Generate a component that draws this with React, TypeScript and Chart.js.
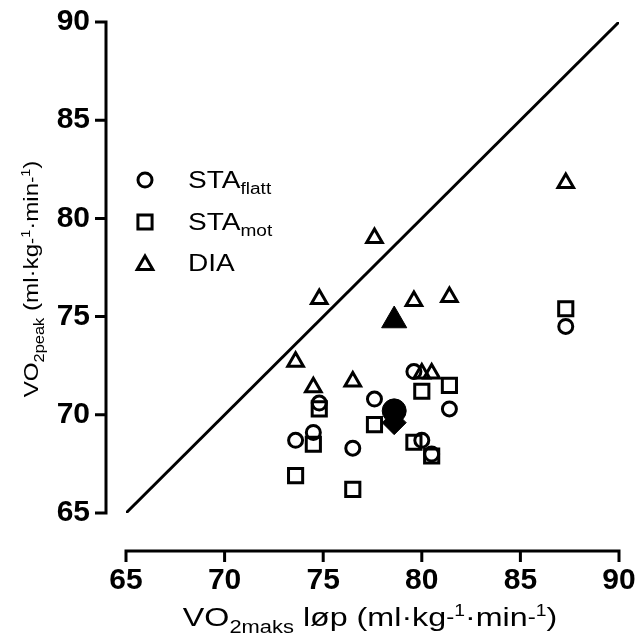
import React, { useEffect, useRef } from 'react';
import { Chart, registerables } from 'chart.js';

Chart.register(...registerables);

// VO2maks løp of each runner (shared x for all three test conditions)
const runnerX = [73.6, 74.5, 74.8, 76.5, 77.6, 79.6, 80.0, 80.5, 81.4, 87.3];
// VO2peak per condition
const staFlattY = [68.7, 69.1, 70.6, 68.3, 70.8, 72.2, 68.7, 68.0, 70.3, 74.5];
const staMotY = [66.9, 68.5, 70.3, 66.2, 69.5, 68.6, 71.2, 67.9, 71.5, 75.4];
const diaY = [72.7, 71.4, 75.9, 71.7, 79.0, 75.8, 72.1, 72.1, 76.0, 81.8];
// group means (filled symbols)
const meanX = [78.6];
const meanFlattY = [70.2];
const meanMotY = [69.6];
const meanDiaY = [74.8];
// identity line
const identityLine = [65, 90];
const axisMin = 65;
const axisMax = 90;
const tickStep = 5;

type Kind = 'n' | 'sub' | 'sup' | 'dash';
type Seg = [string, Kind];

const FONT = '"Liberation Sans", Arial, sans-serif';

function drawRich(
  ctx: CanvasRenderingContext2D,
  segs: Seg[],
  x: number,
  y: number,
  size: number,
  sx: number,
  align: 'left' | 'center',
  rot = 0,
) {
  ctx.save();
  ctx.translate(x, y);
  if (rot) ctx.rotate(rot);
  ctx.scale(sx, 1);
  ctx.fillStyle = '#000';
  ctx.textBaseline = 'alphabetic';
  ctx.textAlign = 'left';
  const spec = (k: Kind) => {
    if (k === 'sub') return { fs: size * 0.68, off: size * 0.27 };
    if (k === 'sup') return { fs: size * 0.6, off: -size * 0.38 };
    if (k === 'dash') return { fs: size * 0.75, off: -size * 0.06 };
    return { fs: size, off: 0 };
  };
  let total = 0;
  const widths: number[] = [];
  for (const [t, k] of segs) {
    ctx.font = `${spec(k).fs}px ${FONT}`;
    const w = ctx.measureText(t).width;
    widths.push(w);
    total += w;
  }
  let cx = align === 'center' ? -total / 2 : 0;
  segs.forEach(([t, k], i) => {
    const s = spec(k);
    ctx.font = `${s.fs}px ${FONT}`;
    ctx.fillText(t, cx, s.off);
    cx += widths[i];
  });
  ctx.restore();
}

function drawMarker(ctx: CanvasRenderingContext2D, style: string, x: number, y: number, r: number) {
  ctx.beginPath();
  if (style === 'circle') {
    ctx.arc(x, y, r, 0, Math.PI * 2);
  } else if (style === 'rect') {
    const s = Math.SQRT1_2 * r;
    ctx.rect(x - s, y - s, 2 * s, 2 * s);
  } else {
    ctx.moveTo(x, y - r);
    ctx.lineTo(x + Math.sin((2 * Math.PI) / 3) * r, y + 0.5 * r);
    ctx.lineTo(x - Math.sin((2 * Math.PI) / 3) * r, y + 0.5 * r);
    ctx.closePath();
  }
  ctx.stroke();
}

const R_CIRCLE = 7;
const R_RECT = 10;
const R_TRI = 9;

const decorPlugin = {
  id: 'decor',
  beforeDatasetsDraw(chart: any) {
    const ctx: CanvasRenderingContext2D = chart.ctx;
    const xs = chart.scales.x;
    const ys = chart.scales.y;
    const area = chart.chartArea;
    const axisY = area.bottom + 38;
    const axisX = area.left - 20;
    ctx.save();
    ctx.strokeStyle = '#000';
    ctx.lineWidth = 3;
    ctx.lineCap = 'butt';
    // x axis
    const x0 = xs.getPixelForValue(axisMin);
    const x1 = xs.getPixelForValue(axisMax);
    ctx.beginPath();
    ctx.moveTo(x0 - 1.5, axisY);
    ctx.lineTo(x1 + 1.5, axisY);
    for (const t of xs.ticks) {
      const px = xs.getPixelForValue(t.value);
      ctx.moveTo(px, axisY);
      ctx.lineTo(px, axisY + 11);
    }
    ctx.stroke();
    // y axis
    const y0 = ys.getPixelForValue(axisMin);
    const y1 = ys.getPixelForValue(axisMax);
    ctx.beginPath();
    ctx.moveTo(axisX, y0 + 1.5);
    ctx.lineTo(axisX, y1 - 1.5);
    for (const t of ys.ticks) {
      const py = ys.getPixelForValue(t.value);
      ctx.moveTo(axisX, py);
      ctx.lineTo(axisX - 11, py);
    }
    ctx.stroke();
    ctx.restore();
  },
  afterDraw(chart: any) {
    const ctx: CanvasRenderingContext2D = chart.ctx;
    ctx.save();
    // legend
    ctx.strokeStyle = '#000';
    ctx.lineWidth = 3;
    const lx = 145;
    const rows: [string, number, Seg[]][] = [
      ['circle', 180, [['STA', 'n'], ['flatt', 'sub']]],
      ['rect', 222, [['STA', 'n'], ['mot', 'sub']]],
      ['triangle', 263, [['DIA', 'n']]],
    ];
    for (const [style, y, segs] of rows) {
      drawMarker(ctx, style, lx, style === 'triangle' ? y + 2 : y, style === 'circle' ? R_CIRCLE : style === 'rect' ? R_RECT : R_TRI);
      drawRich(ctx, segs, 188, y + 8, 23, 1.22, 'left');
    }
    // x title
    drawRich(
      ctx,
      [['VO', 'n'], ['2maks', 'sub'], [' løp (ml·kg', 'n'], ['-', 'dash'], ['1', 'sup'], ['·min', 'n'], ['-', 'dash'], ['1', 'sup'], [')', 'n']],
      370,
      626,
      26,
      1.24,
      'center',
    );
    // y title
    drawRich(
      ctx,
      [['VO', 'n'], ['2peak', 'sub'], [' (ml·kg', 'n'], ['-', 'dash'], ['1', 'sup'], ['·min', 'n'], ['-', 'dash'], ['1', 'sup'], [')', 'n']],
      38,
      279,
      21,
      1.15,
      'center',
      -Math.PI / 2,
    );
    ctx.restore();
  },
};

const toPts = (xs: number[], ys: number[]) => xs.map((x, i) => ({ x, y: ys[i] }));

export default function App() {
  const ref = useRef<HTMLCanvasElement | null>(null);
  useEffect(() => {
    if (!ref.current) return;
    const openStyle = { borderColor: '#000', backgroundColor: 'rgba(0,0,0,0)', borderWidth: 3 };
    const chart = new Chart(ref.current, {
      type: 'scatter',
      data: {
        datasets: [
          {
            type: 'line',
            label: 'identity',
            data: toPts(identityLine, identityLine),
            borderColor: '#000',
            borderWidth: 3,
            pointRadius: 0,
            fill: false,
          } as any,
          { label: 'STAflatt', data: toPts(runnerX, staFlattY), pointStyle: 'circle', pointRadius: R_CIRCLE, ...openStyle },
          { label: 'STAmot', data: toPts(runnerX, staMotY), pointStyle: 'rect', pointRadius: R_RECT, ...openStyle },
          { label: 'DIA', data: toPts(runnerX, diaY), pointStyle: 'triangle', pointRadius: R_TRI, ...openStyle },
          {
            label: 'DIA mean',
            data: toPts(meanX, meanDiaY),
            pointStyle: 'triangle',
            pointRadius: 14.5,
            borderColor: '#000',
            backgroundColor: '#000',
            borderWidth: 1,
          },
          {
            label: 'STAmot mean',
            data: toPts(meanX, meanMotY),
            pointStyle: 'rectRot',
            pointRadius: 12,
            borderColor: '#000',
            backgroundColor: '#000',
            borderWidth: 1,
          },
          {
            label: 'STAflatt mean',
            data: toPts(meanX, meanFlattY),
            pointStyle: 'circle',
            pointRadius: 12,
            borderColor: '#000',
            backgroundColor: '#000',
            borderWidth: 1,
          },
        ],
      },
      options: {
        animation: false,
        responsive: false,
        devicePixelRatio: 1,
        layout: { padding: { top: 22, right: 17, left: 0, bottom: 0 } },
        plugins: { legend: { display: false }, tooltip: { enabled: false } },
        scales: {
          x: {
            type: 'linear',
            min: axisMin,
            max: axisMax,
            grid: { display: false, drawTicks: false },
            border: { display: false },
            ticks: {
              stepSize: tickStep,
              padding: 50,
              color: '#000',
              font: { family: FONT, size: 30, weight: 'bold' },
              maxRotation: 0,
            },
            afterFit: (s: any) => {
              s.height = 126;
              s.paddingLeft = 0;
              s.paddingRight = 0;
            },
          },
          y: {
            type: 'linear',
            min: axisMin,
            max: axisMax,
            grid: { display: false, drawTicks: false },
            border: { display: false },
            ticks: {
              stepSize: tickStep,
              padding: 36,
              color: '#000',
              font: { family: FONT, size: 30, weight: 'bold' },
            },
            afterFit: (s: any) => {
              s.width = 126;
              s.paddingTop = 0;
              s.paddingBottom = 0;
            },
          },
        },
      },
      plugins: [decorPlugin],
    });
    return () => chart.destroy();
  }, []);
  return (
    <div style={{ position: 'absolute', left: 0, top: 0, width: 636, height: 639, background: '#fff' }}>
      <canvas ref={ref} width={636} height={639} style={{ width: 636, height: 639 }} />
    </div>
  );
}
